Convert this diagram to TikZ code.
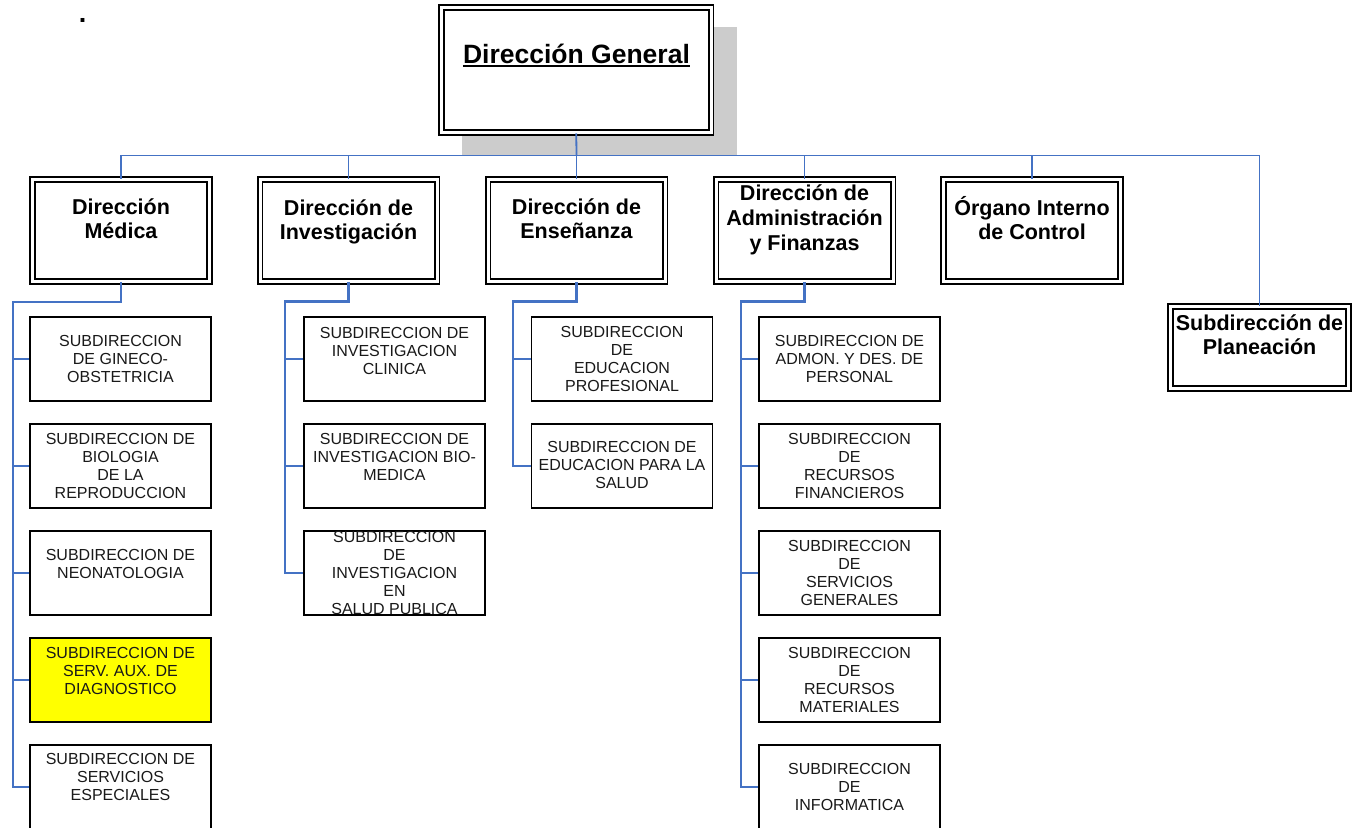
\documentclass[tikz,border=0pt]{standalone}
\usepackage{fontspec}
\setmainfont{Liberation Sans}
\definecolor{linkblue}{RGB}{68,114,196}
\definecolor{shadowgray}{RGB}{204,204,204}
\definecolor{hiyellow}{RGB}{255,255,0}
\begin{document}
\begin{tikzpicture}[x=1pt,y=-1pt,
  conn/.style={draw=linkblue, line width=1.8pt},
  spine/.style={draw=linkblue, line width=2.4pt},
  dirbox/.style={draw=black, double=white, double distance=3pt, line width=1.8pt,
    fill=white, minimum width=177pt, minimum height=102pt, inner sep=0pt},
  dirtext/.style={font=\bfseries\fontsize{21.5}{24}\selectfont, align=center,
    text=black, inner sep=0pt},
  subbox/.style={draw=black, line width=1.8pt, fill=white,
    minimum width=181pt, minimum height=84pt, inner sep=0pt},
  subtext/.style={font=\fontsize{16}{18}\selectfont, align=center,
    inner sep=0pt, text=black!90},
]
\useasboundingbox (0,0) rectangle (1362,827);

% stray full stop in the corner
\node[font=\bfseries\fontsize{27}{30}\selectfont, inner sep=0pt, anchor=base] (dot) at (82.5,22.5) {.};

% ---------- top level ----------
\fill[shadowgray] (462,27) rectangle (737,155);
\node[dirbox, minimum width=269.5pt, minimum height=125pt] (dg) at (576.25,70) {};
\node[font=\bfseries\fontsize{26.5}{30}\selectfont, inner sep=0pt, anchor=base] (dgt) at (576.5,63.3) {Dirección General};
\draw[line width=2pt] ([yshift=-2.7pt]dgt.base west) -- ([yshift=-2.7pt]dgt.base east);

% ---------- directions ----------
\node[dirbox] (med) at (121,230.5) {};
\node[dirbox] (inv) at (348.5,230.5) {};
\node[dirbox] (ens) at (576.5,230.5) {};
\node[dirbox] (adm) at (804.5,230.5) {};
\node[dirbox] (oic) at (1032,230.5) {};
\node[dirbox, minimum width=178pt, minimum height=82pt] (pla) at (1259.5,347.5) {};

\node[dirtext] (medt) at (121,218.5) {Dirección\\Médica};
\node[dirtext] (invt) at (348.5,221.5) {Dirección de\\Investigación};
\node[dirtext] (enst) at (576.5,218.5) {Dirección de\\Enseñanza};
\node[dirtext, font=\bfseries\fontsize{21.5}{25}\selectfont] (admt) at (804.5,220) {Dirección de\\Administración\\y Finanzas};
\node[dirtext] (oict) at (1032,218) {Órgano Interno\\de Control};
\node[dirtext] (plat) at (1259.5,335) {Subdirección de\\Planeación};

% bus from the general direction
\coordinate (bus) at (576.5,155.5);
\draw[conn] (dg.south) -- (bus);
\draw[conn] (med.north) |- (bus -| pla.north) -- (pla.north);
\draw[conn] (bus -| inv.north) -- (inv.north);
\draw[conn] (bus -| ens.north) -- (ens.north);
\draw[conn] (bus -| adm.north) -- (adm.north);
\draw[conn] (bus -| oic.north) -- (oic.north);

% ---------- Dirección Médica ----------
\node[subbox] (m1) at (120.5,359) {};
\node[subbox] (m2) at (120.5,466) {};
\node[subbox] (m3) at (120.5,573) {};
\node[subbox, fill=hiyellow] (m4) at (120.5,680) {};
\node[subbox] (m5) at (120.5,787) {};
\node[subtext] (m1t) at (120.5,359) {SUBDIRECCION\\DE GINECO-\\OBSTETRICIA};
\node[subtext] (m2t) at (120.5,466) {SUBDIRECCION DE\\BIOLOGIA\\DE LA\\REPRODUCCION};
\node[subtext] (m3t) at (120.5,564) {SUBDIRECCION DE\\NEONATOLOGIA};
\node[subtext] (m4t) at (120.5,671) {SUBDIRECCION DE\\SERV. AUX. DE\\DIAGNOSTICO};
\node[subtext] (m5t) at (120.5,777) {SUBDIRECCION DE\\SERVICIOS\\ESPECIALES};
\coordinate (ms) at (13,302);
\draw[spine] (med.south) |- (ms) |- (m5.west);
\foreach \k in {1,...,4} \draw[conn] (ms |- m\k.west) -- (m\k.west);

% ---------- Dirección de Investigación ----------
\node[subbox] (i1) at (394.5,359) {};
\node[subbox] (i2) at (394.5,466) {};
\node[subbox] (i3) at (394.5,573) {};
\node[subtext] (i1t) at (394.5,351) {SUBDIRECCION DE\\INVESTIGACION\\CLINICA};
\node[subtext] (i2t) at (394.5,457) {SUBDIRECCION DE\\INVESTIGACION BIO-\\MEDICA};
\begin{scope}
  \clip (i3.north west) rectangle (i3.south east);
  \node[subtext] (i3t) at (394.5,573) {SUBDIRECCION\\DE\\INVESTIGACION\\EN\\SALUD PUBLICA};
\end{scope}
\coordinate (is) at (285,301.5);
\draw[spine] (inv.south) |- (is) |- (i3.west);
\foreach \k in {1,2} \draw[conn] (is |- i\k.west) -- (i\k.west);

% ---------- Dirección de Enseñanza ----------
\node[subbox] (e1) at (622,359) {};
\node[subbox] (e2) at (622,466) {};
\node[subtext] (e1t) at (622,359) {SUBDIRECCION\\DE\\EDUCACION\\PROFESIONAL};
\node[subtext] (e2t) at (622,465) {SUBDIRECCION DE\\EDUCACION PARA LA\\SALUD};
\coordinate (es) at (513,301.5);
\draw[spine] (ens.south) |- (es) |- (e2.west);
\draw[conn] (es |- e1.west) -- (e1.west);

% ---------- Dirección de Administración y Finanzas ----------
\node[subbox] (a1) at (849.5,359) {};
\node[subbox] (a2) at (849.5,466) {};
\node[subbox] (a3) at (849.5,573) {};
\node[subbox] (a4) at (849.5,680) {};
\node[subbox] (a5) at (849.5,787) {};
\node[subtext] (a1t) at (849.5,359) {SUBDIRECCION DE\\ADMON. Y DES. DE\\PERSONAL};
\node[subtext] (a2t) at (849.5,466) {SUBDIRECCION\\DE\\RECURSOS\\FINANCIEROS};
\node[subtext] (a3t) at (849.5,573) {SUBDIRECCION\\DE\\SERVICIOS\\GENERALES};
\node[subtext] (a4t) at (849.5,680) {SUBDIRECCION\\DE\\RECURSOS\\MATERIALES};
\node[subtext] (a5t) at (849.5,787) {SUBDIRECCION\\DE\\INFORMATICA};
\coordinate (as) at (741,301.5);
\draw[spine] (adm.south) |- (as) |- (a5.west);
\foreach \k in {1,...,4} \draw[conn] (as |- a\k.west) -- (a\k.west);

\end{tikzpicture}
\end{document}
